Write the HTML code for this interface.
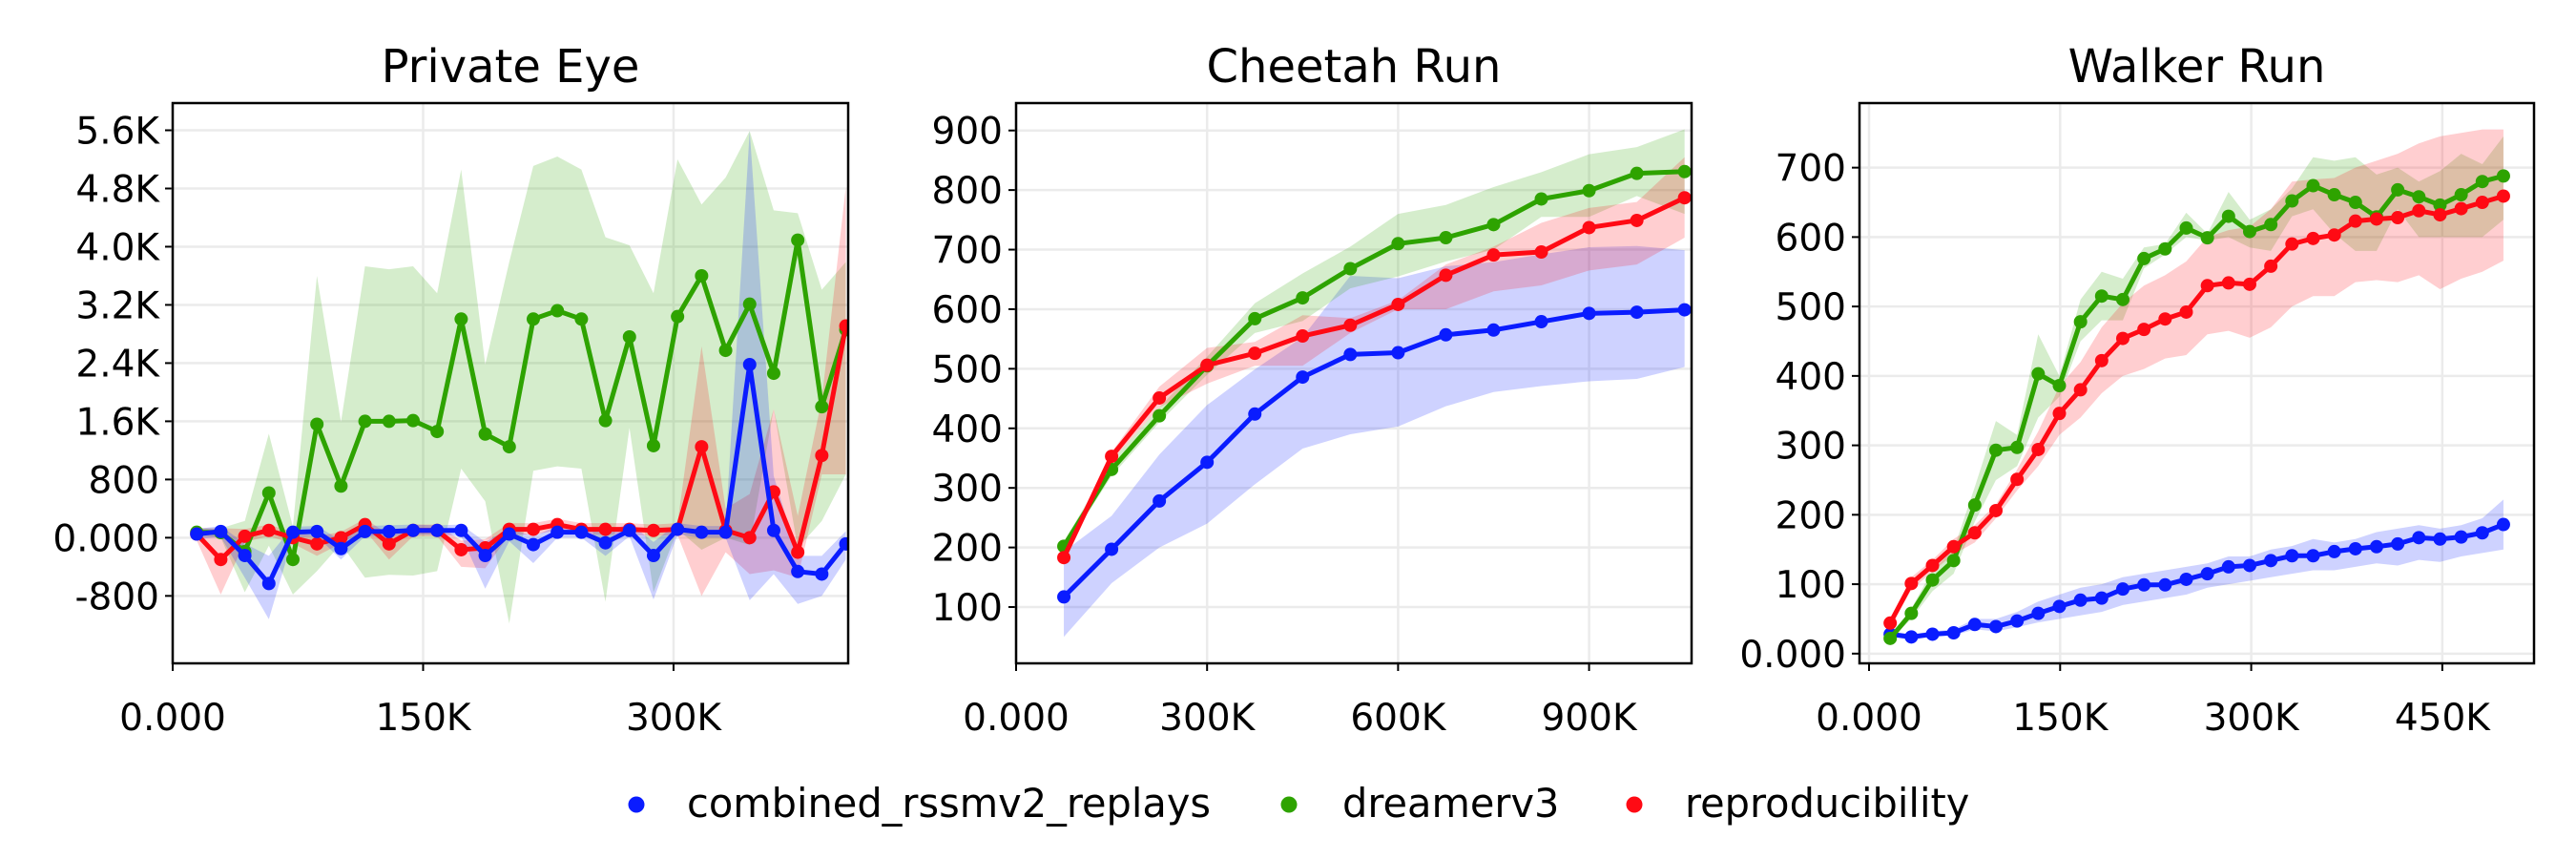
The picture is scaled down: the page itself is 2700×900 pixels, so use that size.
<!DOCTYPE html>
<html><head><meta charset="utf-8"><style>
html,body{margin:0;padding:0;background:#fff;}
svg{display:block;font-family:"DejaVu Sans","Liberation Sans",sans-serif;}
</style></head><body>
<svg id="chart" width="2700" height="900" viewBox="0 0 2700 900" xmlns="http://www.w3.org/2000/svg"></svg>
<script>
// ---------- Private Eye data ----------
const peX = [1,2,3,4,5,6,7,8,9,10,11,12,13,14,15,16,17,18,19,20,21,22,23,24,25,26,27,28].map(i=>i*14400);
const peBlue = [50,85,-245,-630,75,85,-150,85,85,100,100,100,-245,50,-95,75,75,-70,100,-245,115,75,75,2380,100,-465,-500,-85];
const peBlueHi = [120,160,-80,-250,150,160,-40,160,170,180,170,180,-60,130,20,160,150,60,200,-60,200,160,160,5590,850,-250,-250,90];
const peBlueLo = [-20,10,-550,-1120,0,20,-300,20,20,40,40,20,-700,-50,-350,0,0,-250,20,-850,40,0,0,-860,-500,-910,-800,-300];
const peGreen = [75,70,-190,615,-300,1560,710,1600,1600,1610,1460,3005,1425,1250,3005,3120,3005,1610,2760,1265,3040,3600,2575,3210,2260,4090,1800,2860];
const peGreenHi = [130,130,230,1430,150,3600,1590,3730,3690,3730,3360,5060,2380,3790,5110,5240,5060,4130,4020,3360,5200,4580,4950,5590,4500,4460,3410,3790];
const peGreenLo = [20,0,-750,-110,-780,-460,-85,-550,-510,-520,-460,950,500,-1180,920,980,950,-880,1510,-750,115,-165,0,-100,1770,-140,230,870];
const peRed = [50,-300,20,100,0,-85,0,180,-85,100,100,-165,-140,115,115,180,115,115,115,100,115,1250,100,0,630,-200,1130,2910];
const peRedHi = [130,130,120,180,80,20,80,260,40,180,180,-40,-20,200,200,260,200,200,200,180,200,2630,400,600,1770,300,1900,4820];
const peRedLo = [-40,-780,-60,20,-80,-250,-80,100,-300,20,20,-400,-420,40,40,100,40,40,40,20,40,-800,-200,-500,-450,-550,870,870];
const peYTicks = [-800,0,800,1600,2400,3200,4000,4800,5600];
const peYLabels = ["-800","0.000","800","1.6K","2.4K","3.2K","4.0K","4.8K","5.6K"];
const peXTicks = [0,150000,300000];
const peXLabels = ["0.000","150K","300K"];

// ---------- Cheetah Run data ----------
const crX = [1,2,3,4,5,6,7,8,9,10,11,12,13,14].map(i=>i*75000);
const crBlue = [117,197,278,343,424,486,524,527,557,565,579,593,595,599];
const crBlueHi = [193,253,356,439,499,553,656,652,672,679,692,704,706,699];
const crBlueLo = [50,140,200,240,306,366,390,403,437,461,471,479,483,503];
const crGreen = [202,331,421,505,584,619,668,710,720,742,785,799,828,831];
const crGreenHi = [210,345,435,520,610,660,705,760,775,805,830,860,872,902];
const crGreenLo = [195,320,410,490,560,580,635,655,680,700,755,755,790,760];
const crRed = [183,353,451,506,526,555,573,608,657,691,696,737,749,787];
const crRedHi = [185,360,470,535,545,590,585,615,675,705,745,770,780,855];
const crRedLo = [180,345,435,475,505,505,560,600,600,630,640,665,675,720];
const crYTicks = [100,200,300,400,500,600,700,800,900];
const crYLabels = ["100","200","300","400","500","600","700","800","900"];
const crXTicks = [0,300000,600000,900000];
const crXLabels = ["0.000","300K","600K","900K"];

// ---------- Walker Run data ----------
const wrX = [1,2,3,4,5,6,7,8,9,10,11,12,13,14,15,16,17,18,19,20,21,22,23,24,25,26,27,28,29,30].map(i=>i*16600);
const wrBlue = [28,24,28,30,42,39,47,58,68,77,80,93,99,99,107,115,125,127,134,141,141,147,151,154,158,167,165,168,174,186];
const wrBlueHi = [32,28,32,35,50,50,60,75,85,95,100,110,115,120,125,130,140,140,150,155,165,160,165,175,180,185,180,185,195,222];
const wrBlueLo = [24,20,24,26,35,32,38,45,50,55,60,70,75,80,85,95,100,105,110,115,120,120,125,130,127,135,132,140,145,150];
const wrGreen = [22,58,106,134,214,293,297,403,386,478,515,510,569,583,613,599,630,608,618,652,674,661,650,629,668,658,646,661,680,688];
const wrGreenHi = [25,65,120,150,240,335,315,460,400,510,550,540,585,590,635,605,665,625,640,670,715,710,715,690,700,680,695,720,705,745];
const wrGreenLo = [20,50,90,115,190,250,270,340,370,450,480,480,555,575,600,595,600,585,580,630,640,605,580,580,640,600,600,600,600,625];
const wrRed = [44,101,127,154,174,206,251,294,346,380,422,454,467,482,492,530,534,532,558,590,598,603,623,626,628,638,632,641,650,659];
const wrRedHi = [50,110,135,165,185,215,265,320,385,420,470,505,530,545,565,600,610,615,640,680,683,685,700,710,720,735,745,750,755,755];
const wrRedLo = [38,92,118,143,160,195,235,270,315,340,375,400,410,425,430,460,465,455,470,500,515,515,535,538,535,545,525,540,550,566];
const wrYTicks = [0,100,200,300,400,500,600,700];
const wrYLabels = ["0.000","100","200","300","400","500","600","700"];
const wrXTicks = [0,150000,300000,450000];
const wrXLabels = ["0.000","150K","300K","450K"];

const COLORS = {blue:"#0a1cff", green:"#2ea300", red:"#ff0a14"};
const NS = "http://www.w3.org/2000/svg";
const svg = document.getElementById("chart");
function mk(tag, attrs, parent){const e=document.createElementNS(NS,tag);for(const k in attrs)e.setAttribute(k,attrs[k]);(parent||svg).appendChild(e);return e;}

function panel(cfg){
  const g = mk("g",{});
  
  
  const L=cfg.box[0],T=108,R=cfg.box[1],B=695;
  const sx=v=>L+(v-cfg.xmin)/(cfg.xmax-cfg.xmin)*(R-L);
  const sy=v=>B-(v-cfg.ymin)/(cfg.ymax-cfg.ymin)*(B-T);
  const clip = mk("clipPath",{id:cfg.name+"-clip"},g);
  mk("rect",{x:L,y:T,width:R-L,height:B-T},clip);
  cfg.yt.forEach((v,i)=>{
    const gl=mk("line",{x1:L,x2:R,y1:sy(v),y2:sy(v),stroke:"#ebebeb","stroke-width":2.5},g);
    
    
    const tk=mk("line",{x1:L-8,x2:L,y1:sy(v),y2:sy(v),stroke:"#000","stroke-width":2},g);
    
    
    const t=mk("text",{x:L-14,y:sy(v)+14,"text-anchor":"end","font-size":39,fill:"#000"},g);
    t.textContent=cfg.yl[i];
    
    
  });
  cfg.xt.forEach((v,i)=>{
    const gl=mk("line",{x1:sx(v),x2:sx(v),y1:T,y2:B,stroke:"#ebebeb","stroke-width":2.5},g);
    
    
    const tk=mk("line",{x1:sx(v),x2:sx(v),y1:B,y2:B+8,stroke:"#000","stroke-width":2},g);
    
    
    const t=mk("text",{x:sx(v),y:B+70,"text-anchor":"middle","font-size":39,fill:"#000"},g);
    t.textContent=cfg.xl[i];
    
    
  });
  const plot=mk("g",{"clip-path":"url(#"+cfg.name+"-clip)"},g);
  cfg.series.forEach(s=>{
    const xs=cfg.x;
    let d="M"+xs.map((x,i)=>sx(x)+","+sy(s.hi[i])).join("L");
    d+="L"+xs.slice().reverse().map((x,j)=>{const i=xs.length-1-j;return sx(x)+","+sy(s.lo[i]);}).join("L")+"Z";
    const band=mk("path",{d:d,fill:COLORS[s.c],"fill-opacity":0.2,stroke:"none"},plot);
    
    
  });
  cfg.series.forEach(s=>{
    const xs=cfg.x;
    const ln=mk("polyline",{points:xs.map((x,i)=>sx(x)+","+sy(s.v[i])).join(" "),fill:"none",stroke:COLORS[s.c],"stroke-width":5,"stroke-linejoin":"round"},plot);
    
    
    xs.forEach((x,i)=>{
      const c=mk("circle",{cx:sx(x),cy:sy(s.v[i]),r:7,fill:COLORS[s.c]},plot);
      
      
    });
  });
  const fr=mk("rect",{x:L,y:T,width:R-L,height:B-T,fill:"none",stroke:"#000","stroke-width":2.5},g);
  
  
  const tt=mk("text",{x:(L+R)/2,y:86,"text-anchor":"middle","font-size":48,fill:"#000"},g);
  tt.textContent=cfg.title;
  
  
}

panel({name:"private-eye-panel",title:"Private Eye",box:[181,889],xmin:0,xmax:404600,ymin:-1727,ymax:5974,
  x:peX,yt:peYTicks,yl:peYLabels,xt:peXTicks,xl:peXLabels,
  series:[{c:"green",v:peGreen,hi:peGreenHi,lo:peGreenLo},{c:"red",v:peRed,hi:peRedHi,lo:peRedLo},{c:"blue",v:peBlue,hi:peBlueHi,lo:peBlueLo}]});
panel({name:"cheetah-run-panel",title:"Cheetah Run",box:[1065,1773],xmin:0,xmax:1061000,ymin:5.5,ymax:946,
  x:crX,yt:crYTicks,yl:crYLabels,xt:crXTicks,xl:crXLabels,
  series:[{c:"blue",v:crBlue,hi:crBlueHi,lo:crBlueLo},{c:"green",v:crGreen,hi:crGreenHi,lo:crGreenLo},{c:"red",v:crRed,hi:crRedHi,lo:crRedLo}]});
panel({name:"walker-run-panel",title:"Walker Run",box:[1949,2656],xmin:-7500,xmax:522000,ymin:-14,ymax:793,
  x:wrX,yt:wrYTicks,yl:wrYLabels,xt:wrXTicks,xl:wrXLabels,
  series:[{c:"blue",v:wrBlue,hi:wrBlueHi,lo:wrBlueLo},{c:"green",v:wrGreen,hi:wrGreenHi,lo:wrGreenLo},{c:"red",v:wrRed,hi:wrRedHi,lo:wrRedLo}]});

// legend
const legNames=["combined_rssmv2_replays","dreamerv3","reproducibility"];
const legColors=["blue","green","red"];
const legX=[667,1351,1713];
const legTX=[720,1407,1766];
const lg=mk("g",{});


legNames.forEach((n,i)=>{
  const c=mk("circle",{cx:legX[i],cy:843,r:8.5,fill:COLORS[legColors[i]]},lg);
  
  
  const t=mk("text",{x:legTX[i],y:856,"font-size":41.5,fill:"#000"},lg);
  t.textContent=n;
  
  
});
</script>
</body></html>
